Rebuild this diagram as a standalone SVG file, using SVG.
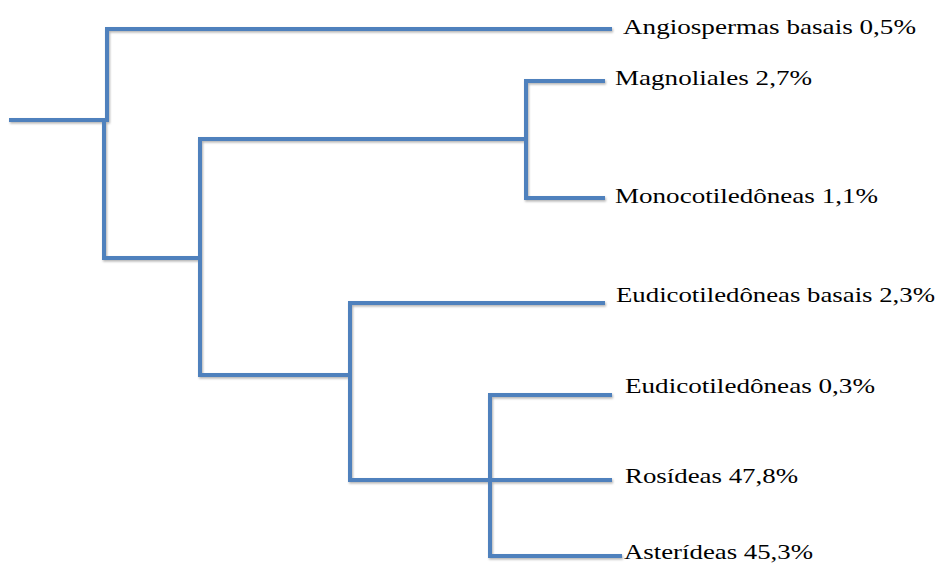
<svg xmlns="http://www.w3.org/2000/svg" width="940" height="564" viewBox="0 0 940 564">
<defs>
<style>
.br{fill:none;stroke:#4F81BD;stroke-width:4;stroke-linecap:square;stroke-linejoin:miter}
.lbl{font-family:'Liberation Serif','Times New Roman',serif;font-size:22px;fill:#000}
</style>
<filter id="sh" x="-5%" y="-5%" width="110%" height="110%">
<feDropShadow dx="1" dy="1.5" stdDeviation="0.8" flood-color="#000" flood-opacity="0.3"/>
</filter>
</defs>
<rect width="940" height="564" fill="#fff"/>
<g id="connectors" filter="url(#sh)">
<path class="br" d="M11,120 H107"/>
<path class="br" d="M107,120 V29 H610"/>
<path class="br" d="M104,120 V258 H200"/>
<path class="br" d="M200,258 V139 H526"/>
<path class="br" d="M603,81 H526 V198 H603"/>
<path class="br" d="M200,258 V375 H348"/>
<path class="br" d="M603,303 H350 V480 H610"/>
<path class="br" d="M610,395 H490 V556 H620"/>
</g>
<g id="n-angiospermas"><text class="lbl" x="623" y="34" textLength="293" lengthAdjust="spacingAndGlyphs">Angiospermas basais 0,5%</text></g>
<g id="n-magnoliales"><text class="lbl" x="615" y="85" textLength="197" lengthAdjust="spacingAndGlyphs">Magnoliales 2,7%</text></g>
<g id="n-monocotiledoneas"><text class="lbl" x="615" y="203" textLength="263" lengthAdjust="spacingAndGlyphs">Monocotiledôneas 1,1%</text></g>
<g id="n-eudicot-basais"><text class="lbl" x="616" y="302" textLength="319" lengthAdjust="spacingAndGlyphs">Eudicotiledôneas basais 2,3%</text></g>
<g id="n-eudicot"><text class="lbl" x="625" y="393" textLength="250" lengthAdjust="spacingAndGlyphs">Eudicotiledôneas 0,3%</text></g>
<g id="n-rosideas"><text class="lbl" x="625" y="483" textLength="173" lengthAdjust="spacingAndGlyphs">Rosídeas 47,8%</text></g>
<g id="n-asterideas"><text class="lbl" x="624" y="559" textLength="189" lengthAdjust="spacingAndGlyphs">Asterídeas 45,3%</text></g>
</svg>
